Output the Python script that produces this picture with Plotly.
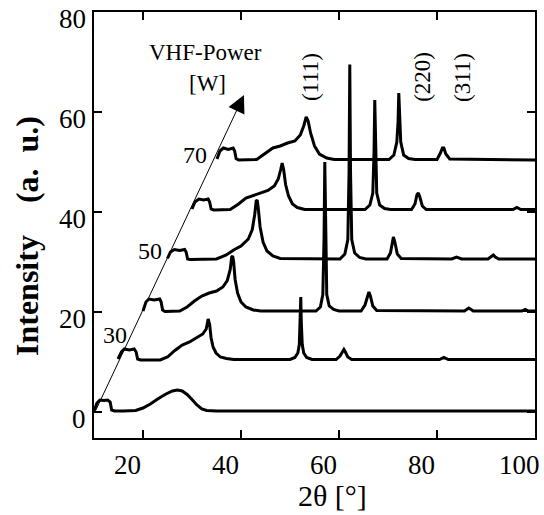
import plotly.graph_objects as go

# ---- data ----
x_a = [10, 10.6, 11.2, 12.0, 12.8, 13.3, 13.6, 14.2, 16, 18.5, 20, 21.5, 23, 24.5, 26, 27, 28, 29, 30, 31, 32, 33, 35, 100]
y_a = [0.2, 1.8, 2.4, 2.3, 2.4, 2.0, 0.4, 0.2, 0.2, 0.3, 0.8, 1.6, 2.6, 3.5, 4.2, 4.4, 4.2, 3.5, 2.5, 1.4, 0.6, 0.3, 0.2, 0.2]

x_b = [14.9, 15.6, 16.2, 17.2, 18.2, 18.6, 18.9, 19.5, 23.5, 25, 26.5, 28, 29.5, 31, 32.2, 32.9, 33.3, 33.6, 33.9, 34.3, 34.9, 35.8, 37, 38.5,
       50, 51.0, 51.6, 51.9, 52.1, 52.2, 52.3, 52.5, 52.8, 53.4, 54.5,
       59.4, 60.2, 60.7, 61.0, 61.3, 61.8, 62.6, 80.5, 81.4, 82.3, 100]
y_b = [10.6, 12.0, 12.6, 12.4, 12.6, 12.0, 10.6, 10.4, 10.4, 11.0, 12.3, 13.4, 14.0, 14.8, 15.6, 16.6, 18.6, 17.5, 14.8, 13.0, 11.8, 11.0, 10.7, 10.5,
       10.5, 10.9, 11.8, 13.5, 18.0, 23.0, 18.0, 13.5, 11.8, 10.9, 10.5,
       10.5, 11.2, 12.2, 12.5, 12.0, 11.0, 10.5, 10.5, 10.9, 10.5, 10.5]

x_c = [20, 20.6, 21.2, 22.3, 23.4, 23.7, 24.0, 24.5, 27.5, 29, 30.5, 32, 33.5, 35, 36.3, 37.2, 37.8, 38.1, 38.3, 38.5, 38.8, 39.3, 40, 41, 42.5, 44,
       55.3, 56.2, 56.7, 56.95, 57.1, 57.25, 57.5, 58.0, 58.9, 60,
       64.5, 65.3, 65.8, 66.1, 66.4, 66.9, 67.7, 85.6, 86.5, 87.4, 97.3, 98, 98.7, 100]
y_c = [20.2, 22.0, 22.6, 22.4, 22.6, 22.0, 20.4, 20.1, 20.2, 21.0, 22.2, 23.2, 23.8, 24.2, 25.0, 26.3, 28.5, 31.0, 31.2, 30.0, 26.5, 23.8, 22.0, 21.0, 20.4, 20.2,
       20.2, 21.0, 23.5, 35.0, 50.0, 35.0, 23.5, 21.2, 20.5, 20.2,
       20.2, 21.4, 23.4, 24.0, 23.2, 21.2, 20.3, 20.2, 20.8, 20.2, 20.2, 20.5, 20.2, 20.2]

x_d = [25, 25.6, 26.4, 27.5, 28.5, 28.8, 29.1, 29.6, 35, 37, 38.5, 40, 41.5, 42.3, 42.8, 43.1, 43.3, 43.5, 43.9, 44.5, 45.3, 46.5, 48,
       60.2, 61.2, 61.8, 62.05, 62.2, 62.35, 62.6, 63.2, 64.2, 65.5,
       69.8, 70.5, 70.9, 71.1, 71.4, 71.9, 72.7, 83, 84, 85, 90.4, 91.1, 91.5, 91.9, 92.6, 100]
y_d = [30.7, 32.0, 32.5, 32.3, 32.5, 32.0, 30.6, 30.5, 30.6, 31.4, 32.4, 33.2, 34.6, 36.5, 39.5, 42.2, 42.4, 41.0, 37.0, 34.0, 32.2, 31.2, 30.7,
       30.6, 31.6, 34.5, 48.0, 69.5, 48.0, 34.5, 31.8, 30.9, 30.6,
       30.6, 31.8, 34.0, 35.0, 34.0, 31.6, 30.7, 30.6, 31.0, 30.6, 30.6, 31.0, 31.4, 31.0, 30.6, 30.6]

x_e = [30, 30.6, 31.4, 32.4, 33.3, 33.6, 33.9, 34.4, 37.8, 39.5, 41, 42.5, 44, 45.5, 46.8, 47.6, 48.1, 48.4, 48.7, 49.1, 49.7, 50.5, 51.5, 53,
       65.3, 66.3, 66.9, 67.15, 67.3, 67.45, 67.7, 68.3, 69.3, 70.5,
       74.8, 75.5, 75.9, 76.2, 76.5, 77.0, 77.8, 95.5, 96.3, 97.1, 100]
y_e = [40.6, 42.0, 42.6, 42.4, 42.6, 42.0, 40.6, 40.4, 40.5, 41.6, 42.8, 43.3, 43.8, 44.3, 45.2, 46.6, 48.5, 49.8, 48.5, 45.5, 43.2, 41.6, 40.9, 40.5,
       40.5, 41.4, 43.8, 52.0, 62.4, 52.0, 43.8, 41.4, 40.7, 40.5,
       40.5, 41.6, 43.4, 43.8, 43.0, 41.2, 40.5, 40.5, 40.9, 40.5, 40.5]

x_f = [35.1, 35.7, 36.4, 37.4, 38.4, 38.7, 39.0, 39.5, 43.2, 45, 46.5, 48, 49.5, 51, 52.1, 52.8, 53.3, 53.7, 54.2, 55.0, 56.0, 57.5, 59,
       70.2, 71.2, 71.8, 72.05, 72.2, 72.35, 72.6, 73.2, 74.2, 75.5,
       80, 80.7, 81.1, 81.4, 81.8, 82.6, 100]
y_f = [50.6, 52.2, 52.8, 52.5, 52.8, 52.2, 50.7, 50.4, 50.5, 51.8, 52.8, 53.2, 53.8, 54.2, 55.4, 57.2, 59.0, 58.2, 55.8, 53.2, 51.6, 50.8, 50.5,
       50.5, 51.4, 54.0, 58.0, 63.8, 58.0, 54.0, 51.4, 50.7, 50.5,
       50.5, 51.8, 52.8, 52.8, 51.6, 50.6, 50.4]

x_ticks = [20, 40, 60, 80, 100]
x_tick_text = ["20", "40", "60", "80", "100"]
y_ticks = [0, 20, 40, 60, 80]
y_tick_text = ["0", "20", "40", "60", "80"]
power_labels = ["30", "50", "70"]
power_label_x = [14.3, 21.4, 30.6]
power_label_y = [15.4, 32.2, 51.4]
hkl_labels = ["(111)", "(220)", "(311)"]
hkl_x = [54.1, 76.9, 85.1]
hkl_y = [67, 67, 67]
arrow_tail = (10.2, 0)
arrow_head = (40.6, 63.4)

FONT = "Liberation Serif"
L, R, T, B = 94, 9, 12, 77
W, H = 544, 515
pw, ph = W - L - R, H - T - B


def px_to_paper_x(px):
    return (px - L) / pw


def px_to_paper_y(py):
    return (H - B - py) / ph


fig = go.Figure()
for xs, ys in [(x_a, y_a), (x_b, y_b), (x_c, y_c), (x_d, y_d), (x_e, y_e), (x_f, y_f)]:
    fig.add_trace(go.Scatter(x=xs, y=ys, mode="lines",
                             line=dict(color="black", width=3),
                             showlegend=False, hoverinfo="skip"))

annotations = []
# tick labels (offset as in the reference)
for v, t in zip(x_ticks, x_tick_text):
    annotations.append(dict(x=v, y=px_to_paper_y(465), xref="x", yref="paper", text=t, showarrow=False,
                            xanchor="center", yanchor="middle", xshift=-16,
                            font=dict(family=FONT, size=27, color="black")))
for v, t in zip(y_ticks, y_tick_text):
    annotations.append(dict(x=px_to_paper_x(88), y=v, xref="paper", yref="y", text=t, showarrow=False,
                            xanchor="right", yanchor="middle", yshift=-7,
                            font=dict(family=FONT, size=27, color="black")))
for t, ax_, ay_ in zip(power_labels, power_label_x, power_label_y):
    annotations.append(dict(x=ax_, y=ay_, xref="x", yref="y", text=t, showarrow=False,
                            font=dict(family=FONT, size=24, color="black")))
for t, hx, hy in zip(hkl_labels, hkl_x, hkl_y):
    annotations.append(dict(x=hx, y=hy, xref="x", yref="y", text=t, showarrow=False, textangle=-90,
                            font=dict(family=FONT, size=23, color="black")))
annotations.append(dict(x=32.7, y=72, xref="x", yref="y", text="VHF-Power", showarrow=False,
                        font=dict(family=FONT, size=23, color="black")))
annotations.append(dict(x=33.1, y=65.8, xref="x", yref="y", text="[W]", showarrow=False,
                        font=dict(family=FONT, size=23, color="black")))
annotations.append(dict(x=arrow_head[0], y=arrow_head[1], ax=arrow_tail[0], ay=arrow_tail[1],
                        xref="x", yref="y", axref="x", ayref="y", text="", showarrow=True,
                        arrowhead=2, arrowsize=3.5, arrowwidth=1, arrowcolor="black", standoff=0))
# axis titles
annotations.append(dict(x=px_to_paper_x(332), y=px_to_paper_y(495), xref="paper", yref="paper",
                        text="2θ [°]", showarrow=False, xanchor="center", yanchor="middle",
                        font=dict(family=FONT, size=30, color="black")))
annotations.append(dict(x=px_to_paper_x(27), y=px_to_paper_y(236), xref="paper", yref="paper",
                        text="Intensity\u00a0\u00a0\u00a0\u00a0(a.\u00a0\u00a0u.)",
                        showarrow=False, textangle=-90, xanchor="center", yanchor="middle",
                        font=dict(family=FONT, size=32, color="black", weight="bold")))

fig.update_layout(
    width=W, height=H,
    margin=dict(l=L, r=R, t=T, b=B, pad=0, autoexpand=False),
    plot_bgcolor="white", paper_bgcolor="white",
    annotations=annotations,
    xaxis=dict(range=[10, 100], tickvals=x_ticks, ticks="inside", ticklen=8, tickwidth=1.5,
               tickcolor="black", showline=True, linewidth=2, linecolor="black", mirror="ticks",
               showgrid=False, zeroline=False, showticklabels=False, automargin=False),
    yaxis=dict(range=[-5.2, 80], tickvals=y_ticks, ticks="inside", ticklen=8, tickwidth=1.5,
               tickcolor="black", showline=True, linewidth=2, linecolor="black", mirror="ticks",
               showgrid=False, zeroline=False, showticklabels=False, automargin=False),
)
fig.write_html("out.html")
